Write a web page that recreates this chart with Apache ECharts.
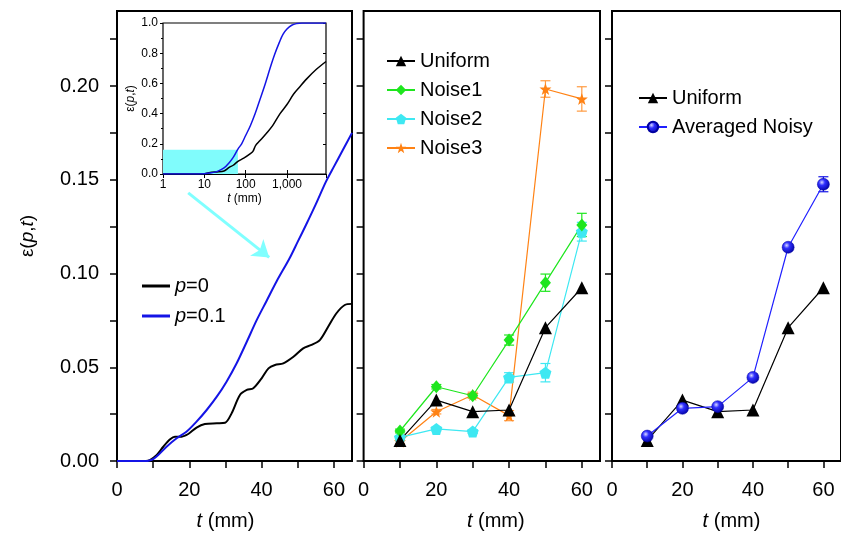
<!DOCTYPE html>
<html>
<head>
<meta charset="utf-8">
<title>epsilon(p,t)</title>
<script src="https://cdn.jsdelivr.net/npm/echarts@6/dist/echarts.min.js"></script>
<style>
html, body { margin: 0; padding: 0; background: #fff; }
#chart { width: 841px; height: 541px; }
</style>
</head>
<body>
<div id="chart"></div>
<script>
// ---- data ----
const tmm = [10, 20, 30, 40, 50, 60];

const uniform = [0.0110, 0.0325, 0.0263, 0.0272, 0.0711, 0.0924];
const noise1 = [0.0160, 0.0396, 0.0348, 0.0645, 0.0951, 0.1259];
const noise1Err = [0.0010, 0.0012, 0.0012, 0.0027, 0.0046, 0.0062];
const noise2 = [0.0126, 0.0171, 0.0157, 0.0446, 0.0471, 0.1223];
const noise2Err = [0.0008, 0.0010, 0.0010, 0.0025, 0.0049, 0.0050];
const noise3 = [0.0103, 0.0263, 0.0352, 0.0242, 0.1984, 0.1931];
const noise3Err = [0.0010, 0.0012, 0.0015, 0.0027, 0.0044, 0.0065];
const avgNoisy = [0.0133, 0.0281, 0.0290, 0.0446, 0.1140, 0.1476];
const avgNoisyErr = [0.0008, 0.0008, 0.0010, 0.0010, 0.0015, 0.0040];

// panel 1 curves [t, eps]
const p0Curve = [[0,0],[8,0],[9.1,0.0005],[11,0.0032],[12.8,0.0076],[14.7,0.0116],[16,0.013],[17.9,0.013],
  [19.7,0.0144],[22,0.0178],[24.3,0.0197],[27.6,0.0201],[29.9,0.0204],[31.7,0.0254],[34,0.0352],[35.9,0.0379],
  [37.7,0.0388],[40,0.0441],[41.9,0.0494],[43.7,0.0512],[46,0.0521],[48.8,0.0556],[51.5,0.0601],[53.8,0.0619],
  [56.1,0.0645],[58.4,0.0716],[60.7,0.0788],[63,0.0832],[65,0.0838]];
const p01Curve = [[0,0],[8,0],[9,0.0003],[10,0.001],[11.4,0.0032],[13.7,0.0076],[16.5,0.0121],[19.2,0.0156],
  [22,0.021],[24.8,0.0272],[27.6,0.0343],[30.3,0.0423],[33.1,0.0521],[35.9,0.0636],[38.6,0.075],[41.4,0.0855],
  [44.2,0.096],[47.7,0.108],[50,0.117],[52.3,0.126],[55,0.137],[57.8,0.149],[60,0.157],[62.5,0.166],[65,0.175]];

// inset curves, log time axis
const insetP0 = [[1,0],[9,0],[15,0.012],[20,0.014],[30,0.02],[40,0.044],[50,0.058],[65,0.084],[90,0.105],
  [130,0.135],[150,0.15],[175,0.19],[220,0.22],[320,0.27],[450,0.32],[680,0.40],[1000,0.46],[1450,0.53],
  [2000,0.575],[3000,0.63],[5000,0.69],[8800,0.745]];
const insetP01 = [[1,0],[5,0],[10,0.002],[15,0.008],[20,0.016],[30,0.04],[40,0.075],[50,0.11],[65,0.165],
  [80,0.2],[100,0.255],[130,0.32],[170,0.4],[220,0.49],[300,0.6],[400,0.71],[500,0.79],[650,0.87],
  [800,0.925],[1000,0.96],[1300,0.985],[1700,0.996],[2300,1],[8800,1]];

// zoomed region marked in the inset, and arrow towards the main panel
const zoomBox = [[1, 0.16], [65, 0.16]];
const arrowLine = [[19.7, 0.143], [42.1, 0.1086]];

// tick positions / labels
const xLabelTicks = [0, 20, 40, 60];
const xTicks = [0, 10, 20, 30, 40, 50, 60];
const xTopTicks = [10, 20, 30, 40, 50, 60];
const yLabelTicks = [0, 0.05, 0.10, 0.15, 0.20];
const yTicks = [0, 0.025, 0.05, 0.075, 0.10, 0.125, 0.15, 0.175, 0.20, 0.225];

const FONT = '"Liberation Sans", Arial, Helvetica, sans-serif';
const BLUE = '#1414e6';
const GREEN = '#1ee61e';
const CYAN = '#3ee8f2';
const ORANGE = '#ff8214';
const PENTAGON = 'path://M0,-10 L9.51,-3.09 L5.88,8.09 L-5.88,8.09 L-9.51,-3.09 Z';
const STAR = 'path://M0,-10 L2.35,-3.24 L9.51,-3.09 L3.8,1.24 L5.88,8.09 L0,4 L-5.88,8.09 L-3.8,1.24 L-9.51,-3.09 L-2.35,-3.24 Z';
const SPHERE = {
    type: 'radial', x: 0.38, y: 0.35, r: 0.7,
    colorStops: [{offset: 0, color: '#d8d8ff'}, {offset: 0.35, color: '#3030ff'}, {offset: 1, color: '#0000a0'}]
};

const bottomAxis = (grid, pad) => ({
    type: 'value', gridIndex: grid, position: 'bottom', min: 0, max: 65,
    axisLine: {show: true, onZero: false, lineStyle: {color: '#000', width: 2}},
    axisTick: {show: true, inside: false, length: 7, customValues: xTicks, lineStyle: {color: '#000', width: 1.5}},
    axisLabel: {customValues: xLabelTicks, fontSize: 20, color: '#000', margin: 19, fontFamily: FONT},
    splitLine: {show: false},
    name: '{it|t} (mm)', nameLocation: 'middle', nameGap: 50,
    nameTextStyle: {fontSize: 20, color: '#000', fontFamily: FONT, padding: pad,
        rich: {it: {fontStyle: 'italic', fontSize: 20, fontFamily: FONT, color: '#000'}}}
});

const topAxis = (grid) => ({
    type: 'value', gridIndex: grid, position: 'top', min: 0, max: 65,
    axisLine: {show: false},
    axisTick: {show: true, inside: true, length: 7, customValues: xTopTicks, lineStyle: {color: '#000', width: 1.5}},
    axisLabel: {show: false}, splitLine: {show: false}
});

const sideAxis = (grid, pos, inside, labels) => ({
    type: 'value', gridIndex: grid, position: pos, min: 0, max: 0.24,
    axisLine: {show: false},
    axisTick: {show: true, inside: inside, length: 7, customValues: yTicks, lineStyle: {color: '#000', width: 1.5}},
    axisLabel: labels ? {customValues: yLabelTicks, fontSize: 20, color: '#000', margin: 18, fontFamily: FONT,
        formatter: v => v.toFixed(2)} : {show: false},
    splitLine: {show: false}
});

const pairs = (xs, ys) => xs.map((x, i) => [x, ys[i]]);

const pointSeries = (name, xi, yi, ys, color, symbol, size, extra) => Object.assign({
    name: name, type: 'line', xAxisIndex: xi, yAxisIndex: yi, data: pairs(tmm, ys),
    symbol: symbol, symbolSize: size, showSymbol: true,
    lineStyle: {color: color, width: 1.2}, itemStyle: {color: color}, z: 3
}, extra || {});

const errorSeries = (xi, yi, ys, es, color) => ({
    type: 'custom', xAxisIndex: xi, yAxisIndex: yi, silent: true, z: 2,
    encode: {x: 0, y: [1, 2]},
    data: tmm.map((t, i) => [t, ys[i] - es[i], ys[i] + es[i]]),
    renderItem: (params, api) => {
        const lo = api.coord([api.value(0), api.value(1)]);
        const hi = api.coord([api.value(0), api.value(2)]);
        const w = 5;
        const st = {stroke: color, lineWidth: 1.2};
        return {type: 'group', children: [
            {type: 'line', shape: {x1: lo[0], y1: lo[1], x2: hi[0], y2: hi[1]}, style: st},
            {type: 'line', shape: {x1: lo[0] - w, y1: lo[1], x2: lo[0] + w, y2: lo[1]}, style: st},
            {type: 'line', shape: {x1: hi[0] - w, y1: hi[1], x2: hi[0] + w, y2: hi[1]}, style: st}
        ]};
    }
});

const legendBase = (names, left, top, gap) => ({
    data: names, left: left, top: top, orient: 'vertical', itemWidth: 28, itemHeight: 13, itemGap: gap,
    selectedMode: false,
    textStyle: {fontSize: 20, color: '#000', fontFamily: FONT,
        rich: {it: {fontStyle: 'italic', fontSize: 20, fontFamily: FONT, color: '#000'}}}
});

const initChart = () => {
    const chartElement = document.getElementById('chart');
    const chart = echarts.init(chartElement, null, {renderer: 'canvas'});

    const option = {
        animation: false,
        backgroundColor: '#fff',
        textStyle: {fontFamily: FONT},
        grid: [
            {left: 117, top: 11, width: 235, height: 450, show: true, borderColor: '#000', borderWidth: 2, backgroundColor: 'transparent'},
            {left: 363.6, top: 11, width: 236.4, height: 450, show: true, borderColor: '#000', borderWidth: 2, backgroundColor: 'transparent'},
            {left: 612, top: 11, width: 236, height: 450, show: true, borderColor: '#000', borderWidth: 2, backgroundColor: 'transparent'},
            {left: 163, top: 23, width: 163, height: 151, show: true, borderColor: '#000', borderWidth: 1.2, backgroundColor: '#fff'}
        ],
        legend: [
            Object.assign(legendBase([{name: 'p=0', icon: 'rect'}, {name: 'p=0.1', icon: 'rect'}], 137, 271, 10),
                {itemHeight: 3, formatter: n => n.replace('p', '{it|p}')}),
            legendBase(['Uniform', 'Noise1', 'Noise2', 'Noise3'], 381, 46, 9),
            legendBase(['Uniform', 'Averaged Noisy'], 633, 83, 9)
        ],
        xAxis: [
            bottomAxis(0, [0, 18, 0, 0]), topAxis(0),
            bottomAxis(1, [0, 0, 0, 28]), topAxis(1),
            bottomAxis(2, [0, 0, 0, 10]), topAxis(2),
            {
                type: 'log', logBase: 10, gridIndex: 3, position: 'bottom', min: 1, max: 8800,
                axisLine: {show: true, onZero: false, lineStyle: {color: '#000', width: 1.2}},
                axisTick: {show: true, inside: true, length: 4, lineStyle: {color: '#000'}},
                axisLabel: {fontSize: 12, color: '#000', margin: 5, fontFamily: FONT, showMaxLabel: false,
                    formatter: v => String(v).replace(/\B(?=(\d{3})+(?!\d))/g, ',')},
                splitLine: {show: false},
                name: '{it|t} (mm)', nameLocation: 'middle', nameGap: 19,
                nameTextStyle: {fontSize: 12, color: '#000', fontFamily: FONT,
                    rich: {it: {fontStyle: 'italic', fontSize: 12, fontFamily: FONT, color: '#000'}}}
            },
            {
                type: 'log', logBase: 10, gridIndex: 3, position: 'top', min: 1, max: 8800,
                axisLine: {show: false},
                axisTick: {show: true, inside: true, length: 4, lineStyle: {color: '#000'}},
                axisLabel: {show: false}, splitLine: {show: false}
            }
        ],
        yAxis: [
            Object.assign(sideAxis(0, 'left', false, true), {
                name: '\u03b5({it|p},{it|t})', nameLocation: 'middle', nameGap: 80,
                nameTextStyle: {fontSize: 19, color: '#000', fontFamily: FONT,
                    rich: {it: {fontStyle: 'italic', fontSize: 19, fontFamily: FONT, color: '#000'}}}
            }),
            sideAxis(0, 'right', true, false),
            sideAxis(1, 'left', false, false),
            sideAxis(1, 'right', true, false),
            sideAxis(2, 'left', false, false),
            {
                type: 'value', gridIndex: 3, position: 'left', min: 0, max: 1, interval: 0.2,
                axisLine: {show: false},
                axisTick: {show: true, inside: false, length: 3, lineStyle: {color: '#000'}},
                minorTick: {show: true, splitNumber: 2, length: 2, lineStyle: {color: '#000'}},
                axisLabel: {fontSize: 12, color: '#000', margin: 5, fontFamily: FONT, formatter: v => v.toFixed(1)},
                splitLine: {show: false},
                name: '\u03b5({it|p},{it|t})', nameLocation: 'middle', nameGap: 26,
                nameTextStyle: {fontSize: 12, color: '#000', fontFamily: FONT,
                    rich: {it: {fontStyle: 'italic', fontSize: 12, fontFamily: FONT, color: '#000'}}}
            },
            {
                type: 'value', gridIndex: 3, position: 'right', min: 0, max: 1, interval: 0.2,
                axisLine: {show: false},
                axisTick: {show: true, inside: true, length: 3, lineStyle: {color: '#000'}},
                axisLabel: {show: false}, splitLine: {show: false}
            }
        ],
        series: [
            // panel 1
            {
                name: 'p=0', type: 'line', xAxisIndex: 0, yAxisIndex: 0, data: p0Curve,
                smooth: 0.3, symbol: 'none', lineStyle: {color: '#000', width: 2}, itemStyle: {color: '#000'},
                markLine: {
                    silent: true, symbol: ['none', 'arrow'], symbolSize: 16,
                    lineStyle: {color: '#80ffff', width: 3, type: 'solid'}, label: {show: false},
                    data: [[{coord: arrowLine[0]}, {coord: arrowLine[1]}]]
                }
            },
            {
                name: 'p=0.1', type: 'line', xAxisIndex: 0, yAxisIndex: 0, data: p01Curve,
                smooth: 0.3, symbol: 'none', lineStyle: {color: BLUE, width: 2}, itemStyle: {color: BLUE}
            },
            // inset
            {
                name: 'zoom box', type: 'line', xAxisIndex: 6, yAxisIndex: 5, data: zoomBox, z: 3,
                symbol: 'none', silent: true, lineStyle: {width: 0}, areaStyle: {color: '#80fcfc', opacity: 1}
            },
            {
                name: 'inset p=0', type: 'line', xAxisIndex: 6, yAxisIndex: 5, data: insetP0, z: 4,
                smooth: 0.3, symbol: 'none', lineStyle: {color: '#000', width: 1.5}
            },
            {
                name: 'inset p=0.1', type: 'line', xAxisIndex: 6, yAxisIndex: 5, data: insetP01, z: 5,
                smooth: 0.4, symbol: 'none', lineStyle: {color: BLUE, width: 1.5}
            },
            // panel 2
            errorSeries(2, 2, noise1, noise1Err, GREEN),
            errorSeries(2, 2, noise2, noise2Err, CYAN),
            errorSeries(2, 2, noise3, noise3Err, '#ff9a40'),
            pointSeries('Noise3', 2, 2, noise3, ORANGE, STAR, 12),
            pointSeries('Noise2', 2, 2, noise2, CYAN, PENTAGON, 12),
            pointSeries('Noise1', 2, 2, noise1, GREEN, 'diamond', [11, 13]),
            pointSeries('Uniform', 2, 2, uniform, '#000', 'triangle', 13),
            // panel 3
            errorSeries(4, 4, avgNoisy, avgNoisyErr, BLUE),
            pointSeries('Uniform', 4, 4, uniform, '#000', 'triangle', 13),
            pointSeries('Averaged Noisy', 4, 4, avgNoisy, BLUE, 'circle', 12,
                {itemStyle: {color: SPHERE, borderColor: '#0000a0', borderWidth: 0.5}, lineStyle: {color: '#2020ff', width: 1.2}})
        ]
    };

    chart.setOption(option);
    chart.resize();
};

window.addEventListener('load', () => {
    initChart();
});
</script>
</body>
</html>
